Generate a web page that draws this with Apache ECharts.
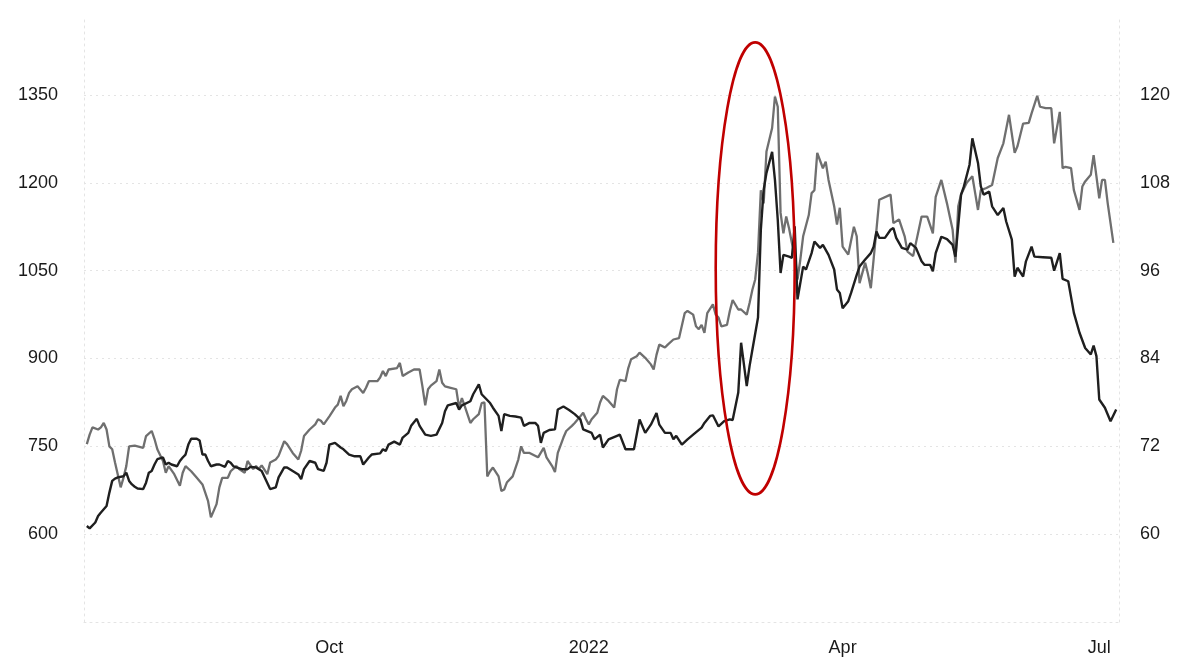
<!DOCTYPE html>
<html><head><meta charset="utf-8">
<script src="https://cdn.jsdelivr.net/npm/echarts@6/dist/echarts.min.js"></script>
<style>html,body{margin:0;padding:0;background:#fff}#c{width:1177px;height:657px}</style>
</head><body><div id="c"></div>
<script>
// Dark line (left axis)
const priceDates = ['2021-07-07','2021-07-08','2021-07-10','2021-07-11','2021-07-12','2021-07-14','2021-07-15','2021-07-16','2021-07-17','2021-07-18','2021-07-20','2021-07-21','2021-07-22','2021-07-23','2021-07-24','2021-07-25','2021-07-27','2021-07-28','2021-07-29','2021-07-30','2021-07-31','2021-08-01','2021-08-03','2021-08-04','2021-08-05','2021-08-06','2021-08-08','2021-08-09','2021-08-10','2021-08-11','2021-08-12','2021-08-13','2021-08-15','2021-08-16','2021-08-17','2021-08-18','2021-08-19','2021-08-20','2021-08-22','2021-08-23','2021-08-25','2021-08-26','2021-08-27','2021-08-28','2021-08-29','2021-08-31','2021-09-02','2021-09-03','2021-09-05','2021-09-06','2021-09-07','2021-09-10','2021-09-12','2021-09-13','2021-09-15','2021-09-16','2021-09-18','2021-09-20','2021-09-21','2021-09-22','2021-09-24','2021-09-26','2021-09-27','2021-09-29','2021-09-30','2021-10-01','2021-10-03','2021-10-05','2021-10-06','2021-10-08','2021-10-10','2021-10-12','2021-10-13','2021-10-15','2021-10-16','2021-10-19','2021-10-20','2021-10-21','2021-10-22','2021-10-24','2021-10-26','2021-10-27','2021-10-29','2021-10-30','2021-11-01','2021-11-02','2021-11-04','2021-11-06','2021-11-08','2021-11-10','2021-11-11','2021-11-12','2021-11-15','2021-11-16','2021-11-17','2021-11-20','2021-11-21','2021-11-23','2021-11-24','2021-11-27','2021-11-28','2021-11-30','2021-12-01','2021-12-02','2021-12-04','2021-12-06','2021-12-08','2021-12-09','2021-12-11','2021-12-13','2021-12-14','2021-12-15','2021-12-16','2021-12-18','2021-12-20','2021-12-21','2021-12-23','2021-12-25','2021-12-27','2021-12-29','2021-12-30','2022-01-02','2022-01-03','2022-01-05','2022-01-06','2022-01-08','2022-01-11','2022-01-12','2022-01-14','2022-01-17','2022-01-19','2022-01-21','2022-01-23','2022-01-25','2022-01-26','2022-01-28','2022-01-30','2022-01-31','2022-02-01','2022-02-03','2022-02-05','2022-02-07','2022-02-10','2022-02-11','2022-02-13','2022-02-14','2022-02-16','2022-02-18','2022-02-20','2022-02-21','2022-02-23','2022-02-24','2022-02-26','2022-02-27','2022-02-28','2022-03-02','2022-03-03','2022-03-04','2022-03-05','2022-03-07','2022-03-08','2022-03-09','2022-03-10','2022-03-11','2022-03-13','2022-03-14','2022-03-15','2022-03-16','2022-03-18','2022-03-19','2022-03-21','2022-03-22','2022-03-24','2022-03-25','2022-03-27','2022-03-29','2022-03-30','2022-03-31','2022-04-01','2022-04-03','2022-04-04','2022-04-06','2022-04-07','2022-04-09','2022-04-11','2022-04-12','2022-04-13','2022-04-14','2022-04-16','2022-04-18','2022-04-19','2022-04-20','2022-04-22','2022-04-24','2022-04-25','2022-04-27','2022-04-29','2022-04-30','2022-05-02','2022-05-03','2022-05-04','2022-05-06','2022-05-08','2022-05-10','2022-05-11','2022-05-13','2022-05-14','2022-05-16','2022-05-17','2022-05-19','2022-05-20','2022-05-21','2022-05-23','2022-05-24','2022-05-26','2022-05-28','2022-05-29','2022-05-31','2022-06-01','2022-06-02','2022-06-04','2022-06-05','2022-06-07','2022-06-08','2022-06-11','2022-06-14','2022-06-15','2022-06-17','2022-06-18','2022-06-20','2022-06-22','2022-06-24','2022-06-26','2022-06-28','2022-06-29','2022-06-30','2022-07-01','2022-07-03','2022-07-05','2022-07-07'];
const priceValues = [614,610,620,631,637,648,671,691,695,697,699,705,691,685,681,678,677,688,705,708,719,728,731,719,722,719,716,725,731,736,753,763,763,760,736,736,725,716,719,719,715,725,722,716,714,711,711,715,714,711,708,677,680,697,714,714,708,702,694,711,725,722,711,708,722,753,756,748,745,736,733,733,719,731,736,738,745,742,753,758,753,765,773,785,797,785,770,768,770,790,810,820,824,813,820,827,839,856,839,824,816,802,776,805,802,801,799,785,790,790,785,756,773,778,779,813,818,812,805,796,779,773,762,770,748,762,768,770,745,745,796,773,787,807,787,773,773,762,768,753,762,770,782,790,802,803,784,793,796,795,842,927,853,887,915,970,1120,1188,1217,1253,1205,1137,1046,1077,1074,1072,1126,1001,1057,1052,1080,1100,1089,1094,1077,1052,1018,1012,986,998,1012,1043,1057,1069,1080,1091,1117,1106,1106,1120,1123,1106,1089,1086,1097,1089,1066,1060,1060,1049,1080,1108,1104,1094,1074,1180,1194,1231,1276,1234,1194,1180,1185,1160,1145,1157,1134,1103,1040,1055,1040,1066,1091,1074,1073,1072,1050,1080,1036,1032,978,944,918,907,922,904,830,816,793,813];

// Grey line (right axis)
const crudeDates = ['2021-07-07','2021-07-08','2021-07-09','2021-07-11','2021-07-12','2021-07-13','2021-07-14','2021-07-15','2021-07-16','2021-07-17','2021-07-19','2021-07-20','2021-07-21','2021-07-22','2021-07-24','2021-07-25','2021-07-27','2021-07-28','2021-07-30','2021-07-31','2021-08-01','2021-08-03','2021-08-04','2021-08-05','2021-08-07','2021-08-09','2021-08-10','2021-08-11','2021-08-13','2021-08-15','2021-08-17','2021-08-19','2021-08-20','2021-08-22','2021-08-23','2021-08-24','2021-08-26','2021-08-27','2021-08-29','2021-08-30','2021-09-01','2021-09-02','2021-09-04','2021-09-05','2021-09-06','2021-09-07','2021-09-09','2021-09-10','2021-09-12','2021-09-13','2021-09-15','2021-09-16','2021-09-18','2021-09-20','2021-09-21','2021-09-22','2021-09-24','2021-09-26','2021-09-27','2021-09-28','2021-09-29','2021-10-01','2021-10-03','2021-10-04','2021-10-05','2021-10-06','2021-10-07','2021-10-08','2021-10-09','2021-10-11','2021-10-13','2021-10-14','2021-10-15','2021-10-18','2021-10-19','2021-10-20','2021-10-21','2021-10-22','2021-10-25','2021-10-26','2021-10-27','2021-10-29','2021-10-31','2021-11-02','2021-11-03','2021-11-04','2021-11-05','2021-11-06','2021-11-08','2021-11-09','2021-11-10','2021-11-11','2021-11-13','2021-11-15','2021-11-16','2021-11-17','2021-11-18','2021-11-20','2021-11-21','2021-11-23','2021-11-24','2021-11-25','2021-11-26','2021-11-27','2021-11-28','2021-11-30','2021-12-01','2021-12-02','2021-12-03','2021-12-05','2021-12-07','2021-12-08','2021-12-09','2021-12-11','2021-12-14','2021-12-16','2021-12-17','2021-12-19','2021-12-20','2021-12-21','2021-12-23','2021-12-24','2021-12-26','2021-12-27','2021-12-29','2021-12-30','2021-12-31','2022-01-01','2022-01-02','2022-01-04','2022-01-05','2022-01-06','2022-01-08','2022-01-10','2022-01-11','2022-01-12','2022-01-14','2022-01-15','2022-01-16','2022-01-18','2022-01-19','2022-01-21','2022-01-23','2022-01-24','2022-01-25','2022-01-26','2022-01-28','2022-01-29','2022-01-31','2022-02-02','2022-02-04','2022-02-05','2022-02-07','2022-02-08','2022-02-09','2022-02-10','2022-02-11','2022-02-12','2022-02-14','2022-02-15','2022-02-16','2022-02-17','2022-02-19','2022-02-20','2022-02-21','2022-02-23','2022-02-24','2022-02-26','2022-02-27','2022-02-28','2022-03-01','2022-03-02','2022-03-03','2022-03-04','2022-03-05','2022-03-06','2022-03-07','2022-03-08','2022-03-09','2022-03-10','2022-03-11','2022-03-12','2022-03-13','2022-03-14','2022-03-15','2022-03-16','2022-03-17','2022-03-18','2022-03-20','2022-03-21','2022-03-22','2022-03-23','2022-03-25','2022-03-26','2022-03-27','2022-03-29','2022-03-30','2022-03-31','2022-04-01','2022-04-03','2022-04-05','2022-04-06','2022-04-07','2022-04-09','2022-04-10','2022-04-11','2022-04-13','2022-04-14','2022-04-18','2022-04-19','2022-04-21','2022-04-23','2022-04-24','2022-04-26','2022-04-27','2022-04-29','2022-05-01','2022-05-03','2022-05-04','2022-05-06','2022-05-08','2022-05-10','2022-05-11','2022-05-12','2022-05-13','2022-05-15','2022-05-17','2022-05-18','2022-05-19','2022-05-20','2022-05-22','2022-05-24','2022-05-26','2022-05-28','2022-05-30','2022-06-01','2022-06-02','2022-06-04','2022-06-06','2022-06-07','2022-06-09','2022-06-10','2022-06-12','2022-06-14','2022-06-15','2022-06-17','2022-06-18','2022-06-19','2022-06-21','2022-06-22','2022-06-24','2022-06-25','2022-06-26','2022-06-28','2022-06-29','2022-06-30','2022-07-01','2022-07-02','2022-07-03','2022-07-04','2022-07-05','2022-07-06'];
const crudeValues = [72.3,73.6,74.6,74.3,74.6,75.2,74.3,72.0,71.6,69.8,66.4,67.7,69.3,72.0,72.1,72.0,71.8,73.4,74.1,73.0,71.6,70.0,68.4,69.3,68.2,66.6,68.4,69.3,68.6,67.7,66.8,64.5,62.3,64.1,66.4,67.7,67.7,68.6,69.3,68.9,68.4,70.0,68.9,69.3,68.9,69.4,68.2,69.8,70.2,70.7,72.7,72.3,71.1,70.2,71.4,73.4,74.3,75.0,75.7,75.5,75.0,76.1,77.3,77.7,78.9,77.5,78.2,79.3,79.8,80.2,79.3,80.0,80.9,80.9,81.4,82.3,81.6,82.5,82.7,83.4,81.6,82.1,82.5,82.5,80.2,77.6,79.8,80.3,80.9,82.5,80.7,80.2,80.0,79.8,77.3,78.6,77.5,75.2,75.7,76.4,77.9,78.0,67.9,68.6,69.1,67.9,65.9,66.1,67.1,67.9,70.2,72.0,71.1,71.1,70.5,71.8,70.5,69.3,68.5,71.1,73.2,74.1,74.8,75.2,76.1,76.6,75.7,75.0,75.7,76.6,78.0,78.9,78.2,77.3,79.8,81.1,80.9,82.7,83.9,84.3,84.8,84.1,83.2,82.5,84.5,85.9,85.5,85.9,86.6,86.8,90.2,90.5,90.0,88.4,88.0,88.6,87.5,90.2,91.4,90.0,89.6,88.4,88.6,90.5,92.0,90.7,90.7,90.0,91.6,93.4,94.8,98.5,107.0,105.2,112.3,113.9,115.5,119.8,118.4,103.9,101.1,103.4,101.8,99.8,98.4,94.8,97.5,100.7,103.6,106.6,107.0,112.1,110.0,110.9,108.4,104.8,102.3,104.6,99.3,98.2,102.0,100.7,94.3,97.1,95.5,93.6,101.6,105.7,106.4,102.5,103.0,100.7,98.6,98.0,99.8,103.4,103.4,101.1,106.1,108.4,105.2,101.6,97.1,104.8,106.4,108.0,108.9,106.6,104.3,107.0,107.3,107.7,111.4,113.4,117.3,112.1,113.0,116.1,116.2,117.5,119.9,118.4,118.2,118.2,113.4,117.7,110.0,110.2,110.0,107.0,104.3,107.5,108.2,109.1,111.8,108.9,105.9,108.4,108.4,105.2,102.5,99.8];

// Axis ticks
const xTickDates = ['2021-10-01','2022-01-01','2022-04-01','2022-07-01'];
const xTickLabels = ['Oct','2022','Apr','Jul'];
const xRange = ['2021-07-06','2022-07-08'];
const leftAxisScale = {min: 450, max: 1485, interval: 150};
const rightAxisScale = {min: 48, max: 130.8, interval: 12};

// Red ellipse annotation (data coordinates, left axis)
const highlight = {from: '2022-02-15', to: '2022-03-15', low: 668, high: 1440};

const ts = s => echarts.number.parseDate(s).getTime();
const zip = (d, v) => d.map((x, i) => [ts(x), v[i]]);
const xTickTs = xTickDates.map(ts);

const chart = echarts.init(document.getElementById('c'), null, {renderer: 'canvas'});
const font = "'Liberation Sans', Arial, sans-serif";
const gridLine = {color: '#e4e4e4', type: [2, 4], width: 1};
const labelStyle = {color: '#1a1a1a', fontSize: 18, fontFamily: font};

chart.setOption({
  animation: false,
  backgroundColor: '#ffffff',
  grid: {left: 84, right: 58, top: 16, bottom: 34},
  xAxis: {
    type: 'value',
    min: ts(xRange[0]), max: ts(xRange[1]),
    axisLine: {show: true, lineStyle: gridLine},
    axisTick: {show: false},
    splitLine: {show: false},
    axisLabel: Object.assign({
      customValues: xTickTs, margin: 17,
      formatter: v => {
        let best = 0;
        xTickTs.forEach((t, i) => { if (Math.abs(t - v) < Math.abs(xTickTs[best] - v)) best = i; });
        return xTickLabels[best];
      }
    }, labelStyle)
  },
  yAxis: [{
    type: 'value', position: 'left',
    min: leftAxisScale.min, max: leftAxisScale.max, interval: leftAxisScale.interval,
    axisLine: {show: true, lineStyle: gridLine},
    axisTick: {show: false},
    splitLine: {show: true, lineStyle: gridLine, showMinLine: false, showMaxLine: false},
    axisLabel: Object.assign({showMinLabel: false, showMaxLabel: false, margin: 26, formatter: v => String(v)}, labelStyle)
  }, {
    type: 'value', position: 'right',
    min: rightAxisScale.min, max: rightAxisScale.max, interval: rightAxisScale.interval,
    axisLine: {show: true, lineStyle: gridLine},
    axisTick: {show: false},
    splitLine: {show: false},
    axisLabel: Object.assign({showMinLabel: false, showMaxLabel: false, margin: 21, formatter: v => String(v)}, labelStyle)
  }],
  series: [{
    type: 'line', name: 'grey', yAxisIndex: 1,
    data: zip(crudeDates, crudeValues),
    showSymbol: false, smooth: false,
    lineStyle: {color: '#6f6f6f', width: 2.3}, z: 2
  }, {
    type: 'line', name: 'dark', yAxisIndex: 0,
    data: zip(priceDates, priceValues),
    showSymbol: false, smooth: false,
    lineStyle: {color: '#1f1f1f', width: 2.4}, z: 3
  }]
});

const p1 = chart.convertToPixel({xAxisIndex: 0, yAxisIndex: 0}, [ts(highlight.from), highlight.high]);
const p2 = chart.convertToPixel({xAxisIndex: 0, yAxisIndex: 0}, [ts(highlight.to), highlight.low]);
chart.setOption({
  graphic: [{
    type: 'ellipse', z: 100,
    shape: {cx: (p1[0] + p2[0]) / 2, cy: (p1[1] + p2[1]) / 2, rx: Math.abs(p2[0] - p1[0]) / 2, ry: Math.abs(p2[1] - p1[1]) / 2},
    style: {fill: null, stroke: '#c00000', lineWidth: 2.6}
  }]
});
</script></body></html>
